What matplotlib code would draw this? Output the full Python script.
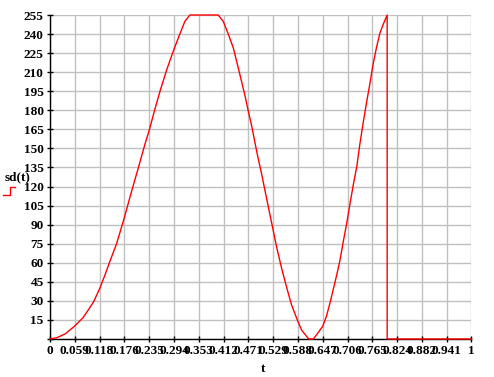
import matplotlib
matplotlib.use("Agg")
import matplotlib.pyplot as plt
from matplotlib.lines import Line2D
import numpy as np

# values
t_vals = [0, 0.016, 0.036, 0.058, 0.079, 0.103, 0.117, 0.130, 0.142, 0.158,
          0.176, 0.190, 0.202, 0.209, 0.225, 0.236, 0.249, 0.261, 0.277, 0.293,
          0.308, 0.320, 0.332, 0.399, 0.411, 0.423, 0.435, 0.444, 0.455, 0.463,
          0.470, 0.479, 0.486, 0.494, 0.502, 0.510, 0.518, 0.528, 0.538, 0.550,
          0.562, 0.573, 0.588, 0.597, 0.609, 0.614, 0.625, 0.634, 0.647, 0.656,
          0.664, 0.672, 0.680, 0.688, 0.696, 0.704, 0.712, 0.720, 0.728, 0.735,
          0.743, 0.751, 0.759, 0.767, 0.775, 0.783, 0.791, 0.800, 0.800, 1.0]
sd_vals = [0, 1, 4, 10, 17, 29, 39, 50, 61, 75,
           95, 112, 126, 134, 153, 165, 181, 195, 212, 227,
           240, 250, 255, 255, 250, 240, 229, 217, 202, 191,
           180, 167, 155, 142, 130, 117, 104, 88, 72, 55,
           40, 27, 14, 7, 2, 0, 0, 4, 10, 18,
           28, 39, 50, 62, 77, 91, 107, 122, 136, 153,
           170, 186, 201, 217, 230, 241, 248, 255, 0, 0]

x_ticks = np.arange(18) / 17
x_labels = ["0"] + [f"{v:.3f}" for v in x_ticks[1:-1]] + ["1"]
y_ticks = np.arange(0, 256, 15)
y_labels = [""] + [str(v) for v in y_ticks[1:]]

font = {"family": "Liberation Serif", "size": 9.5, "weight": "bold"}

fig = plt.figure(figsize=(4.94, 3.77), dpi=100)
ax = fig.add_axes([0.1012, 0.1008, 0.8532, 0.8594])

ax.plot(t_vals, sd_vals, color="red", lw=1, clip_on=False, zorder=3)

ax.set_xlim(0, 1)
ax.set_ylim(0, 255)
ax.set_xticks(x_ticks)
ax.set_xticklabels(x_labels, fontdict=font)
ax.set_yticks(y_ticks)
ax.set_yticklabels(y_labels, fontdict=font)
ax.tick_params(direction="inout", length=5, width=1, pad=2, colors="black")
ax.grid(True, color="#c0c0c0", lw=1)
ax.set_axisbelow(True)
for side in ("top", "right"):
    ax.spines[side].set_visible(False)
for side in ("left", "bottom"):
    ax.spines[side].set_linewidth(1)

fig.text(263 / 494, 1 - 369 / 377, "t", ha="center", va="center", **font)
fig.text(18 / 494, 1 - 177 / 377, "sd(t)", ha="center", va="center", **font)
fig.add_artist(Line2D([3 / 494, 10 / 494, 10 / 494, 15 / 494],
                      [1 - 195 / 377, 1 - 195 / 377, 1 - 187 / 377, 1 - 187 / 377],
                      color="red", lw=1, transform=fig.transFigure))

fig.savefig("out.png", dpi=100)
